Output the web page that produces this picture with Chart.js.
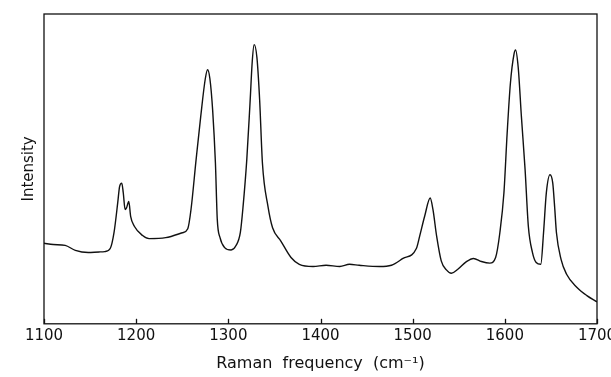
<!DOCTYPE html>
<html>
<head>
<meta charset="utf-8">
<script src="https://cdn.jsdelivr.net/npm/chart.js@4"></script>
<style>
  html, body { margin: 0; padding: 0; background: #fff; }
  #wrap { width: 611px; height: 377px; }
</style>
</head>
<body>
<div id="wrap"><canvas id="chart"></canvas></div>
<script>
// Raman shift (cm-1) and intensity (arbitrary units)
const freq = [
  1100, 1110, 1123, 1134, 1148, 1160, 1166, 1172, 1176, 1180, 1182, 1184.4, 1186, 1188, 1189.5,
  1192, 1194, 1198, 1207, 1214, 1232, 1250, 1256, 1259.5, 1265, 1270, 1275, 1277.5, 1280, 1283,
  1286, 1288, 1291, 1296, 1303, 1308, 1313, 1316, 1320, 1323.5, 1326, 1328, 1331, 1334, 1337,
  1343, 1348, 1357, 1368, 1377, 1392, 1406, 1421, 1431.5, 1442, 1464, 1477, 1489.5, 1504, 1507.6,
  1513, 1519, 1522, 1526, 1531, 1536.6, 1542, 1549, 1558, 1566, 1574.6, 1583.7, 1590, 1594.6, 1599,
  1602.5, 1606, 1610, 1611.6, 1614.5, 1618, 1622, 1625.5, 1630, 1634, 1639, 1642, 1645, 1649,
  1652, 1654, 1656, 1661, 1667, 1678, 1689, 1700
];
const intensity = [
  26.0, 25.6, 25.3, 23.7, 23.0, 23.2, 23.3, 24.4, 29.5, 39.1, 44.3, 45.4, 42.3, 36.9, 37.4,
  39.5, 34.7, 31.5, 28.5, 27.5, 27.8, 29.4, 30.7, 36.9, 52.9, 66.8, 79.1, 82.0, 79.1, 68.9,
  51.8, 33.7, 27.8, 24.6, 23.8, 25.1, 29.4, 37.9, 52.9, 71.1, 84.9, 90.1, 86.0, 72.1, 51.8,
  37.9, 31.0, 26.7, 21.4, 19.2, 18.5, 18.9, 18.5, 19.2, 18.9, 18.5, 18.9, 21.1, 24.3, 28.3,
  34.7, 40.6, 36.9, 28.3, 20.3, 17.4, 16.3, 17.6, 20.0, 21.1, 20.1, 19.6, 21.4, 29.4, 42.2,
  61.4, 77.5, 87.1, 88.4, 82.8, 66.8, 49.7, 31.5, 23.0, 19.8, 19.2, 29.4, 42.2, 48.1,
  45.4, 37.9, 29.4, 20.8, 16.0, 11.8, 9.1, 7.1
];
const xTicks = [1100, 1200, 1300, 1400, 1500, 1600, 1700];

const points = freq.map((f, i) => ({ x: f, y: intensity[i] }));
const fontFamily = '"DejaVu Sans", sans-serif';

// frame round the plot + short ticks pointing into it
const framePlugin = {
  id: 'frame',
  afterDraw(chart) {
    const { ctx, chartArea: a, scales } = chart;
    ctx.save();
    ctx.strokeStyle = '#111';
    ctx.lineWidth = 1.3;
    ctx.strokeRect(a.left, a.top, a.right - a.left, a.bottom - a.top);
    xTicks.forEach(v => {
      const px = Math.round(scales.x.getPixelForValue(v)) + 0.5;
      ctx.beginPath();
      ctx.moveTo(px, a.bottom);
      ctx.lineTo(px, a.bottom - 5);
      ctx.stroke();
    });
    ctx.restore();
  }
};

new Chart(document.getElementById('chart'), {
  type: 'scatter',
  data: {
    datasets: [{
      data: points,
      showLine: true,
      borderColor: '#111',
      borderWidth: 1.4,
      pointRadius: 0,
      cubicInterpolationMode: 'monotone',
      fill: false
    }]
  },
  options: {
    responsive: true,
    maintainAspectRatio: false,
    animation: false,
    layout: { padding: { top: 14, right: 14, left: 20, bottom: 0 } },
    plugins: { legend: { display: false }, tooltip: { enabled: false } },
    scales: {
      x: {
        type: 'linear',
        min: 1100,
        max: 1700,
        afterBuildTicks: (s) => { s.ticks = xTicks.map(v => ({ value: v })); },
        afterFit: (s) => { s.paddingLeft = 0; s.paddingRight = 0; },
        grid: { display: false, drawTicks: false },
        border: { display: false },
        ticks: {
          color: '#111',
          padding: 3,
          maxRotation: 0,
          callback: (v) => String(v),
          font: { family: fontFamily, style: 'condensed', size: 15 }
        },
        title: {
          display: true,
          text: 'Raman  frequency  (cm\u207B\u00B9)',
          color: '#111',
          padding: { top: 6, bottom: 4 },
          font: { family: fontFamily, size: 16 }
        }
      },
      y: {
        min: 0,
        max: 100,
        grid: { display: false, drawTicks: false },
        border: { display: false },
        ticks: { display: false },
        title: {
          display: true,
          text: 'Intensity',
          color: '#111',
          padding: { top: 0, bottom: 6 },
          font: { family: fontFamily, style: 'condensed', size: 15 }
        }
      }
    }
  },
  plugins: [framePlugin]
});
</script>
</body>
</html>
